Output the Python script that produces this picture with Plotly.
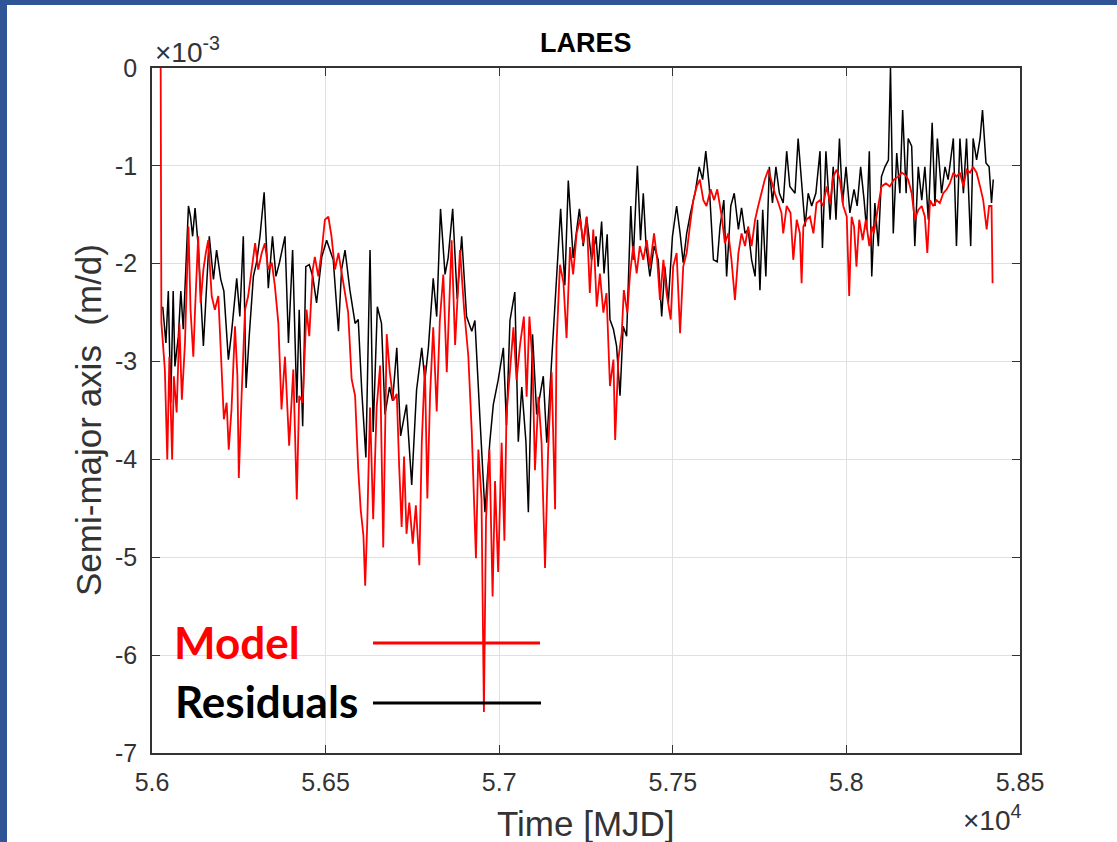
import plotly.graph_objects as go

# ---------------- data (MJD, semi-major axis rate in 1e-3 m/d) ----------------
res_mjd = [
    56031, 56040, 56047, 56054, 56061, 56066, 56076, 56083, 56090,
    56105, 56111, 56117, 56124, 56133, 56148, 56155, 56165, 56177, 56186,
    56198, 56207, 56220, 56229, 56244, 56253, 56263, 56271, 56280, 56292,
    56301, 56311, 56323, 56335, 56347, 56357, 56367, 56383, 56393, 56405,
    56417, 56424, 56434, 56443, 56453, 56463, 56474, 56489, 56503, 56513,
    56522, 56537, 56546, 56556, 56570, 56585, 56594, 56604, 56616, 56628,
    56637, 56649, 56661, 56671, 56684, 56693, 56705, 56716, 56733, 56748,
    56762, 56777, 56786, 56796, 56810, 56820, 56831, 56844, 56853, 56866,
    56879, 56892, 56906, 56921, 56930, 56945, 56959, 56973, 56983, 56997,
    57012, 57021, 57031, 57045, 57055, 57065, 57077, 57084, 57096, 57108,
    57127, 57137, 57151, 57165, 57177, 57189, 57199, 57213, 57231,
    57242, 57252, 57266, 57279, 57285, 57295, 57302, 57311, 57319, 57329,
    57338, 57348, 57357, 57367, 57379, 57386, 57398, 57407, 57415, 57423,
    57434, 57446, 57458, 57468, 57477, 57487, 57499, 57511, 57521, 57530,
    57540, 57551, 57564, 57576, 57586, 57595, 57605, 57617, 57628, 57636,
    57647, 57655, 57667, 57677, 57689, 57698, 57708, 57717, 57727, 57737,
    57744, 57751, 57759, 57768, 57778, 57787, 57797, 57807, 57818, 57828,
    57837, 57852, 57861,
    57881, 57890, 57900, 57912, 57924, 57931, 57941, 57953, 57962, 57970,
    57980, 57989, 57999, 58010, 58022, 58031, 58041, 58051, 58058, 58066,
    58073, 58082, 58092, 58101, 58111, 58121, 58127, 58135, 58145, 58154,
    58162, 58172, 58178, 58188, 58197, 58207, 58217, 58226, 58236, 58247,
    58255, 58262, 58274, 58284, 58293, 58308, 58317, 58327, 58337, 58346,
    58358, 58365, 58375, 58385, 58392, 58402, 58411, 58418, 58423,
]
res_val = [
    -2.44, -2.81, -2.28, -3.42, -2.28, -3.05, -2.74, -2.28, -2.67,
    -1.41, -1.52, -1.72, -1.43, -1.82, -2.84, -2.33, -1.72, -2.16, -1.86,
    -2.16, -2.28, -2.98, -2.71, -2.15, -2.54, -1.72, -3.27, -2.74, -2.13,
    -1.99, -1.72, -1.27, -2.25, -1.72, -2.13, -1.99, -1.72, -2.81, -1.86,
    -3.42, -2.47, -3.66, -2.03, -2.01, -2.13, -2.40, -1.93, -1.76, -1.86,
    -1.96, -2.69, -2.06, -1.86, -2.27, -2.61, -2.57, -3.29, -3.98, -1.86,
    -3.72, -2.44, -2.61, -3.54, -3.26, -3.40, -2.86, -3.76, -3.44, -4.26,
    -3.29, -2.86, -3.19, -2.86, -2.15, -2.54, -1.44, -2.11, -1.94, -1.44,
    -2.36, -1.72, -2.54, -2.69, -2.58, -3.61, -4.54, -3.82, -3.44, -3.19,
    -2.86, -3.65, -2.58, -2.29, -3.82, -3.26, -3.82, -4.54, -2.72, -3.54,
    -3.15, -3.83, -3.01, -2.11, -1.44, -2.22, -1.15, -1.94, -1.44,
    -1.82, -1.52, -1.96, -1.72, -2.03, -1.57, -2.10, -1.70, -2.57, -2.67,
    -2.84, -3.35, -2.64, -2.74, -1.41, -1.96, -1.00, -1.76, -1.28, -1.82,
    -2.13, -1.82, -1.96, -2.54, -2.03, -2.40, -1.72, -1.41, -1.69, -1.99,
    -1.69, -1.48, -1.28, -1.01, -1.14, -0.85, -1.21, -1.96, -1.98, -1.62,
    -1.35, -2.13, -1.41, -1.28, -1.65, -1.43, -1.69, -1.65, -1.96, -2.13,
    -1.55, -2.27, -1.45, -2.13, -1.01, -1.38, -1.01, -1.28, -1.38, -0.85,
    -1.21, -1.28, -0.72,
    -1.62, -1.28, -1.41, -1.28, -0.85, -1.84, -0.85, -1.55, -1.01, -1.55,
    -0.72, -1.38, -1.01, -1.48, -1.24, -1.41, -1.01, -1.35, -1.65, -0.85,
    -2.13, -1.38, -1.82, -1.11, -1.01, -0.94, 0.00, -1.69, -0.87, -1.28,
    -0.43, -1.28, -0.72, -0.80, -1.82, -1.01, -1.35, -1.01, -1.55, -0.56,
    -1.41, -0.72, -1.28, -1.01, -1.14, -0.72, -1.82, -0.72, -1.28, -0.72,
    -1.82, -0.72, -0.94, -0.72, -0.43, -0.97, -1.01, -1.38, -1.14,
]

mod_mjd = [
    56025, 56027, 56037, 56044, 56050, 56058, 56063, 56071, 56079, 56086,
    56095, 56105, 56111, 56119, 56124, 56133, 56140, 56148, 56155, 56162,
    56172, 56181, 56191, 56201, 56207, 56215, 56221, 56229, 56239, 56246,
    56250, 56258, 56268, 56277, 56287, 56297, 56306, 56316, 56325, 56335,
    56345, 56354, 56364, 56373, 56383, 56395, 56407, 56417, 56424, 56434,
    56445, 56453, 56463, 56469, 56479, 56489, 56498, 56508, 56517, 56527,
    56537, 56546, 56556, 56565, 56575, 56585, 56594, 56601, 56609, 56614,
    56620,
    56628, 56637, 56647, 56657, 56666, 56676, 56685, 56695, 56705, 56712,
    56719, 56726, 56733, 56741, 56751, 56760, 56770, 56777, 56786, 56793,
    56801, 56810, 56820, 56829, 56839, 56849, 56863, 56873, 56887, 56899,
    56911, 56921, 56933, 56940, 56949, 56956, 56962, 56972, 56981, 56988,
    56997, 57007, 57015, 57021, 57031, 57041, 57050, 57060, 57071, 57079,
    57087, 57096, 57103, 57113, 57122, 57132, 57141, 57151, 57161, 57165,
    57175, 57185, 57194, 57204, 57213, 57223, 57233,
    57242, 57252, 57261, 57271, 57281, 57290, 57300, 57309, 57319, 57329,
    57334, 57343, 57353, 57359, 57369, 57377, 57386, 57396, 57405, 57415,
    57425, 57434, 57446, 57455, 57463, 57473, 57482, 57494, 57501, 57511,
    57521, 57530, 57540, 57549, 57559, 57569, 57578, 57588, 57597, 57609,
    57619, 57628, 57641, 57650, 57660, 57669, 57679, 57689, 57698, 57708,
    57717, 57727, 57737, 57746, 57756, 57765, 57775, 57785, 57794, 57804,
    57813, 57818, 57828, 57839, 57847, 57857, 57866,
    57871, 57876, 57885, 57895, 57905, 57914, 57924, 57933, 57943, 57953,
    57962, 57972, 57981, 57991, 58001, 58008, 58015, 58022, 58029, 58037,
    58047, 58056, 58066, 58073, 58079, 58092, 58101, 58114, 58125, 58137,
    58149, 58159, 58169, 58178, 58188, 58197, 58207, 58217, 58226, 58233,
    58241, 58250, 58260, 58269, 58279, 58289, 58298, 58308, 58317, 58327,
    58337, 58346, 58356, 58365, 58375, 58385, 58394, 58404, 58411, 58418,
    58421,
]
mod_val = [
    0.00, -2.60, -3.08, -4.00, -2.95, -4.00, -3.15, -3.52, -2.61, -3.39,
    -2.81, -1.62, -2.47, -2.95, -2.47, -1.72, -2.40, -2.06, -1.89, -1.76,
    -2.33, -2.47, -2.33, -3.08, -3.59, -3.42, -3.90, -3.49, -2.64, -3.15,
    -4.19, -3.35, -2.47, -2.33, -2.06, -1.79, -2.06, -1.89, -1.79, -2.06,
    -1.99, -2.23, -2.61, -3.49, -2.95, -3.86, -3.08, -4.41, -3.35, -3.42,
    -2.47, -2.74, -2.06, -1.93, -2.13, -1.86, -1.55, -1.52, -1.72, -2.06,
    -1.89, -2.10, -2.30, -2.50, -3.18, -3.35, -4.10, -4.51, -4.78, -5.29,
    -4.65,
    -3.47, -4.61, -3.47, -3.04, -4.90, -2.72, -3.11, -3.40, -3.33, -4.08,
    -4.69, -3.97, -4.76, -4.44, -4.86, -4.47, -5.08, -3.83, -3.04, -4.40,
    -3.33, -2.65, -3.51, -2.58, -2.11, -3.11, -1.76, -2.83, -1.86, -2.47,
    -2.94, -3.72, -5.01, -3.90, -4.40, -6.58, -4.61, -3.90, -5.40, -4.22,
    -5.15, -3.83, -4.83, -3.54, -3.11, -2.65, -3.19, -2.83, -2.54, -3.36,
    -2.54, -3.01, -4.11, -3.36, -3.83, -5.11, -3.90, -3.11, -4.51, -2.83,
    -2.01, -2.19, -2.76, -1.83, -2.11, -1.69, -1.54,
    -1.79, -1.52, -2.30, -1.65, -2.44, -2.10, -2.50, -2.30, -3.25, -2.98,
    -3.80, -2.98, -2.71, -2.27, -2.50, -2.10, -1.82, -2.10, -1.82, -1.96,
    -1.76, -2.03, -1.69, -1.96, -2.37, -1.96, -2.30, -2.57, -2.03, -1.89,
    -2.71, -2.03, -1.89, -1.62, -1.35, -1.21, -1.14, -1.35, -1.41, -1.24,
    -1.35, -1.24, -1.52, -1.79, -1.69, -1.96, -2.37, -1.89, -1.69, -1.82,
    -1.62, -1.82, -1.55, -1.41, -1.28, -1.14, -1.04, -1.18, -1.28, -1.38,
    -1.48, -1.69, -1.41, -1.48, -1.96, -1.55, -1.69,
    -2.20, -1.62, -1.55, -1.52, -1.69, -1.38, -1.35, -1.41, -1.21, -1.38,
    -1.11, -1.04, -1.14, -1.41, -1.52, -2.33, -1.52, -1.62, -2.03, -1.55,
    -1.76, -1.55, -1.82, -1.62, -1.69, -1.38, -1.21, -1.18, -1.21, -1.14,
    -1.11, -1.07, -1.09, -1.14, -1.28, -1.55, -1.45, -1.41, -1.52, -1.89,
    -1.35, -1.41, -1.35, -1.38, -1.28, -1.24, -1.18, -1.07, -1.11, -1.07,
    -1.21, -1.04, -1.07, -1.01, -1.07, -1.21, -1.35, -1.65, -1.41, -1.41,
    -2.20,
]

x_tickvals = [56000, 56500, 57000, 57500, 58000, 58500]
x_ticktext = ["5.6", "5.65", "5.7", "5.75", "5.8", "5.85"]
y_tickvals = [0, -1, -2, -3, -4, -5, -6, -7]
y_ticktext = ["0", "-1", "-2", "-3", "-4", "-5", "-6", "-7"]

assert len(res_mjd) == len(res_val)
assert len(mod_mjd) == len(mod_val)

# ---------------- figure ----------------
W, H = 1117, 842
L, R, T, B = 152, 97, 68, 89
pw, ph = W - L - R, H - T - B


def px(X):
    return (X - L) / pw


def py(Y):
    return (H - B - Y) / ph


AX = "#333333"
GRID = "#e0e0e0"
BLUE = "#2f5597"
TICKFONT = dict(family="Liberation Sans, Arial, sans-serif", size=25, color=AX)

fig = go.Figure()
fig.add_trace(go.Scatter(x=res_mjd, y=res_val, mode="lines", name="Residuals",
                         line=dict(color="black", width=1.5), showlegend=False))
fig.add_trace(go.Scatter(x=mod_mjd, y=mod_val, mode="lines", name="Model",
                         line=dict(color="#ff0000", width=1.8), showlegend=False))

fig.update_xaxes(range=[56000, 58500], tickvals=x_tickvals, ticktext=x_ticktext,
                 showgrid=True, gridcolor=GRID, gridwidth=1, zeroline=False,
                 showline=True, linecolor=AX, linewidth=1.5, mirror="ticks",
                 ticks="inside", ticklen=8, tickwidth=1.3, tickcolor=AX,
                 tickfont=TICKFONT, ticklabelstandoff=6)
fig.update_yaxes(range=[-7, 0], tickvals=y_tickvals, ticktext=y_ticktext,
                 showgrid=True, gridcolor=GRID, gridwidth=1, zeroline=False,
                 showline=True, linecolor=AX, linewidth=1.5, mirror="ticks",
                 ticks="inside", ticklen=8, tickwidth=1.3, tickcolor=AX,
                 tickfont=TICKFONT, ticklabelstandoff=8)

shapes = [
    # slide frame (blue border strips)
    dict(type="rect", xref="paper", yref="paper", x0=px(0), x1=px(7), y0=py(H), y1=py(0),
         fillcolor=BLUE, line=dict(width=0), layer="above"),
    dict(type="rect", xref="paper", yref="paper", x0=px(0), x1=px(W), y0=py(5), y1=py(0),
         fillcolor=BLUE, line=dict(width=0), layer="above"),
    # legend line samples
    dict(type="line", xref="paper", yref="paper", x0=px(373), x1=px(540), y0=py(643), y1=py(643),
         line=dict(color="#ff0000", width=3), layer="above"),
    dict(type="line", xref="paper", yref="paper", x0=px(373), x1=px(541), y0=py(703), y1=py(703),
         line=dict(color="black", width=3), layer="above"),
]

annotations = [
    dict(text="<b>LARES</b>", x=0.5, y=py(43), xref="paper", yref="paper",
         xanchor="center", yanchor="middle", showarrow=False,
         font=dict(family="Liberation Sans, Arial, sans-serif", size=27, color="black")),
    dict(text="Time [MJD]", x=px(586), y=py(823), xref="paper", yref="paper",
         xanchor="center", yanchor="middle", showarrow=False,
         font=dict(family="Liberation Sans, Arial, sans-serif", size=35, color=AX)),
    dict(text="Semi-major axis  (m/d)", x=px(88), y=py(420), xref="paper", yref="paper",
         xanchor="center", yanchor="middle", showarrow=False, textangle=-90,
         font=dict(family="Liberation Sans, Arial, sans-serif", size=35, color=AX)),
    dict(text="\u00d710<sup>-3</sup>", x=px(153), y=py(50), xref="paper", yref="paper",
         xanchor="left", yanchor="middle", showarrow=False,
         font=dict(family="Liberation Sans, Arial, sans-serif", size=28, color=AX)),
    dict(text="\u00d710<sup>4</sup>", x=px(1024), y=py(818), xref="paper", yref="paper",
         xanchor="right", yanchor="middle", showarrow=False,
         font=dict(family="Liberation Sans, Arial, sans-serif", size=28, color=AX)),
    dict(text="<b>Model</b>", x=px(172), y=py(642), xref="paper", yref="paper",
         xanchor="left", yanchor="middle", showarrow=False,
         font=dict(family="Lato, Open Sans, sans-serif", size=44, color="#ff0000")),
    dict(text="<b>Residuals</b>", x=px(173), y=py(701), xref="paper", yref="paper",
         xanchor="left", yanchor="middle", showarrow=False,
         font=dict(family="Lato, Open Sans, sans-serif", size=44, color="black")),
]

fig.update_layout(width=W, height=H, margin=dict(l=L, r=R, t=T, b=B, pad=0),
                  paper_bgcolor="white", plot_bgcolor="white",
                  shapes=shapes, annotations=annotations, showlegend=False)

fig.write_html("out.html", config={"displayModeBar": False})
